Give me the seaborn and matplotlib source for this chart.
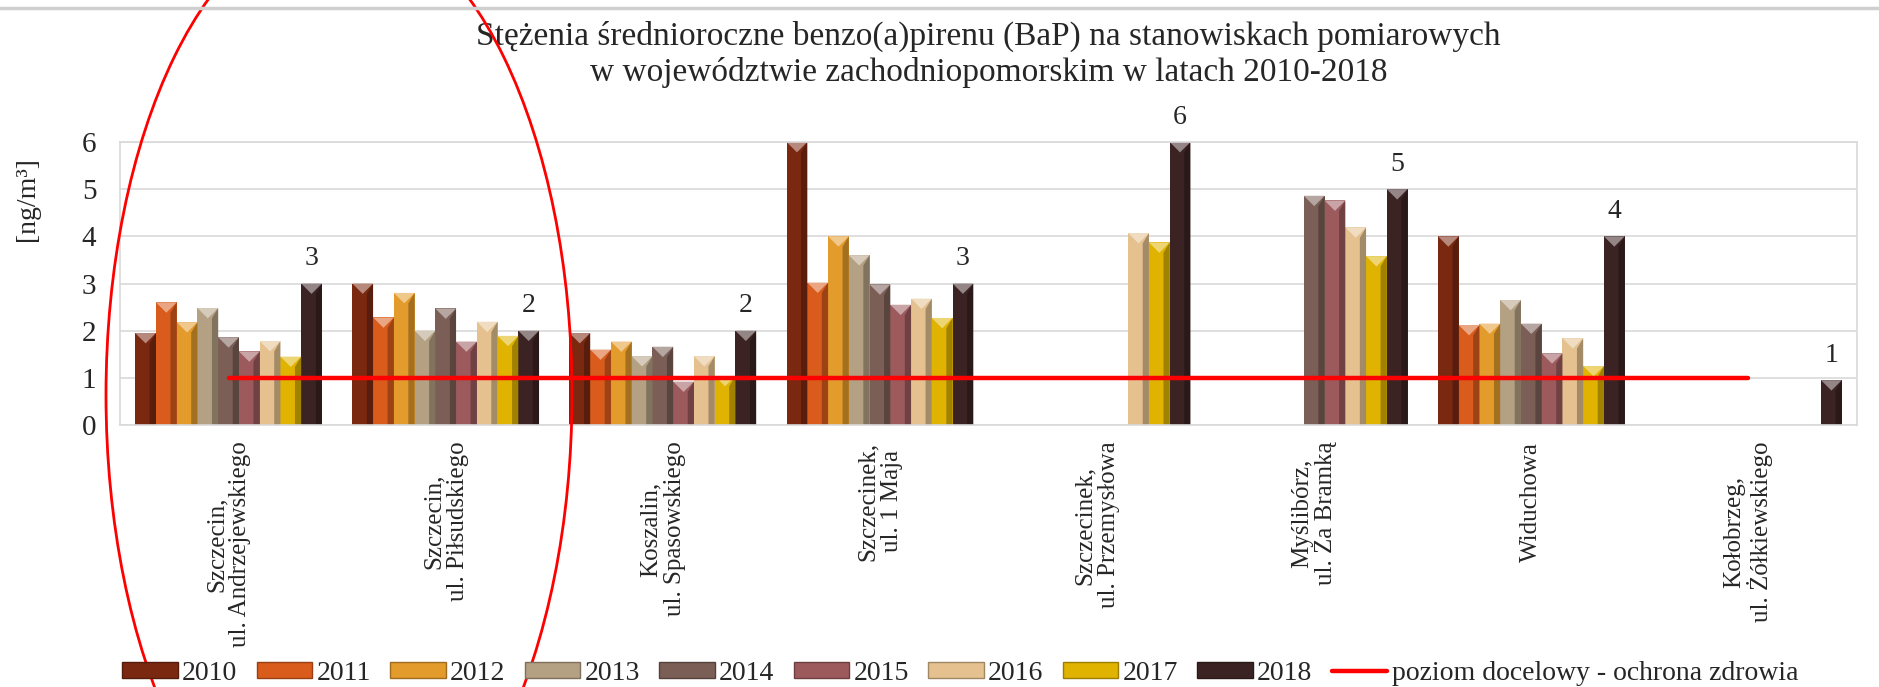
import numpy as np
import pandas as pd
import matplotlib
matplotlib.use("Agg")
import matplotlib.pyplot as plt
import matplotlib.colors as mcolors
import seaborn as sns
from matplotlib.patches import Ellipse, Patch, Polygon
from matplotlib.lines import Line2D

# --------------------------
# dane
# --------------------------
stations = [
    "Szczecin,\nul. Andrzejewskiego",
    "Szczecin,\nul. Piłsudskiego",
    "Koszalin,\nul. Spasowskiego",
    "Szczecinek,\nul. 1 Maja",
    "Szczecinek,\nul. Przemysłowa",
    "Myślibórz,\nul. Za Bramką",
    "Widuchowa",
    "Kołobrzeg,\nul. Żółkiewskiego",
]
years = ["2010", "2011", "2012", "2013", "2014", "2015", "2016", "2017", "2018"]

nan = np.nan
bap_2010 = [1.95, 3.0, 1.95, 6.0, nan, nan, 4.0, nan]
bap_2011 = [2.6, 2.28, 1.6, 3.02, nan, nan, 2.12, nan]
bap_2012 = [2.18, 2.8, 1.77, 4.0, nan, nan, 2.15, nan]
bap_2013 = [2.48, 2.0, 1.46, 3.6, nan, nan, 2.65, nan]
bap_2014 = [1.86, 2.47, 1.66, 2.98, nan, 4.86, 2.15, nan]
bap_2015 = [1.56, 1.77, 0.92, 2.55, nan, 4.76, 1.52, nan]
bap_2016 = [1.78, 2.19, 1.46, 2.68, 4.07, 4.19, 1.84, nan]
bap_2017 = [1.45, 1.89, 1.04, 2.27, 3.87, 3.58, 1.25, nan]
bap_2018 = [3.0, 2.0, 2.0, 3.0, 6.0, 5.0, 4.0, 0.95]
poziom_docelowy = [1, 1, 1, 1, 1, 1, 1, 1]

year_colors = ["#7a2810", "#d95c1c", "#e39b2c", "#b4a082", "#7b5e56",
               "#9c5a5d", "#e4c18f", "#dfb300", "#3c2323"]

series = [bap_2010, bap_2011, bap_2012, bap_2013, bap_2014,
          bap_2015, bap_2016, bap_2017, bap_2018]
df = pd.DataFrame({
    "station": np.tile(stations, len(years)),
    "year": np.repeat(years, len(stations)),
    "value": np.concatenate(series),
})

# --------------------------
# styl
# --------------------------
sns.set_theme(style="white")
plt.rcParams["font.family"] = ["Liberation Serif", "DejaVu Serif"]
plt.rcParams["axes.unicode_minus"] = False

fig = plt.figure(figsize=(18.79, 6.87), dpi=100)
ax_pos = [120 / 1879, 1 - 425 / 687, (1857 - 120) / 1879, (425 - 142) / 687]
ax = fig.add_axes(ax_pos)

sns.barplot(data=df, x="station", y="value", hue="year", order=stations,
            hue_order=years, palette=year_colors, saturation=1, width=0.86,
            errorbar=None, linewidth=0, ax=ax, zorder=2)
ax.get_legend().remove()

# efekt 3D na slupkach (z geometrii slupkow)
ymax = 6
px_x = fig.get_figwidth() * fig.dpi * ax_pos[2] / len(stations)
px_y = fig.get_figheight() * fig.dpi * ax_pos[3] / ymax
for cont, col in zip(ax.containers, year_colors):
    light = mcolors.to_rgb(col)
    light = tuple(c + (1 - c) * 0.45 for c in light)
    dark = tuple(c * 0.72 for c in mcolors.to_rgb(col))
    for p in cont:
        h = p.get_height()
        if np.isnan(h) or h <= 0:
            continue
        x0, w = p.get_x(), p.get_width()
        d = 0.5 * w * px_x / px_y
        ax.add_patch(Polygon([(x0 + 0.7 * w, 0), (x0 + w, 0), (x0 + w, h), (x0 + 0.7 * w, h - d)],
                             closed=True, facecolor=dark, edgecolor="none", zorder=2.1))
        ax.add_patch(Polygon([(x0, h), (x0 + w, h), (x0 + w / 2, h - d)],
                             closed=True, facecolor=light, edgecolor="none", zorder=2.2))

# poziom docelowy
ax.plot(np.arange(len(stations)), poziom_docelowy, color="#ff0000", lw=3.2, zorder=4)

# etykiety danych dla 2018
ax.bar_label(ax.containers[-1], fmt="%.0f", padding=9, fontsize=20, zorder=5)

ax.set_ylim(0, ymax)
ax.set_xlim(-0.5, len(stations) - 0.5)
ax.set_yticks(range(0, 7))
ax.yaxis.grid(True, color="#d9d9d9", lw=1.2, zorder=0)
ax.set_axisbelow(True)
for s in ax.spines.values():
    s.set_color("#d9d9d9")
    s.set_linewidth(1.2)
ax.tick_params(axis="y", length=0, labelsize=21, pad=17)
ax.tick_params(axis="x", length=0, labelsize=18, pad=12)
for lab in ax.get_xticklabels():
    lab.set_rotation(90)
    lab.set_va("top")
    lab.set_ha("center")
    lab.set_multialignment("center")
    lab.set_linespacing(1.1)
ax.set_xlabel("")
ax.set_ylabel("[ng/m³]", fontsize=20)
ax.yaxis.set_label_coords(-0.046, 0.8)

ax.set_title("Stężenia średnioroczne benzo(a)pirenu (BaP) na stanowiskach pomiarowych\n"
             "w województwie zachodniopomorskim w latach 2010-2018",
             fontsize=24, pad=44, linespacing=1.2)

# legenda
handles = []
for col in year_colors:
    handles.append(Patch(facecolor=col, edgecolor=tuple(c * 0.7 for c in mcolors.to_rgb(col)), lw=1))
handles.append(Line2D([], [], color="#ff0000", lw=3.2))
labels = years + ["poziom docelowy - ochrona zdrowia"]
fig.legend(handles, labels, loc="center", ncol=10, frameon=False,
           bbox_to_anchor=(0.511, 0.02), fontsize=20, handlelength=2.0,
           handleheight=0.55, handletextpad=0.15, columnspacing=0.7,
           borderpad=0, borderaxespad=0)

# linia u gory i czerwona elipsa (adnotacja)
fig.add_artist(Line2D([0, 1], [1 - 8 / 687] * 2, transform=fig.transFigure,
                      color="#cfcfcf", lw=2.5))
fig.add_artist(Ellipse((339 / 1879, 1 - 395 / 687), 466 / 1879, 956 / 687,
                       transform=fig.transFigure, fill=False,
                       edgecolor="#ff0000", lw=2))

fig.savefig("out.png", dpi=100)
